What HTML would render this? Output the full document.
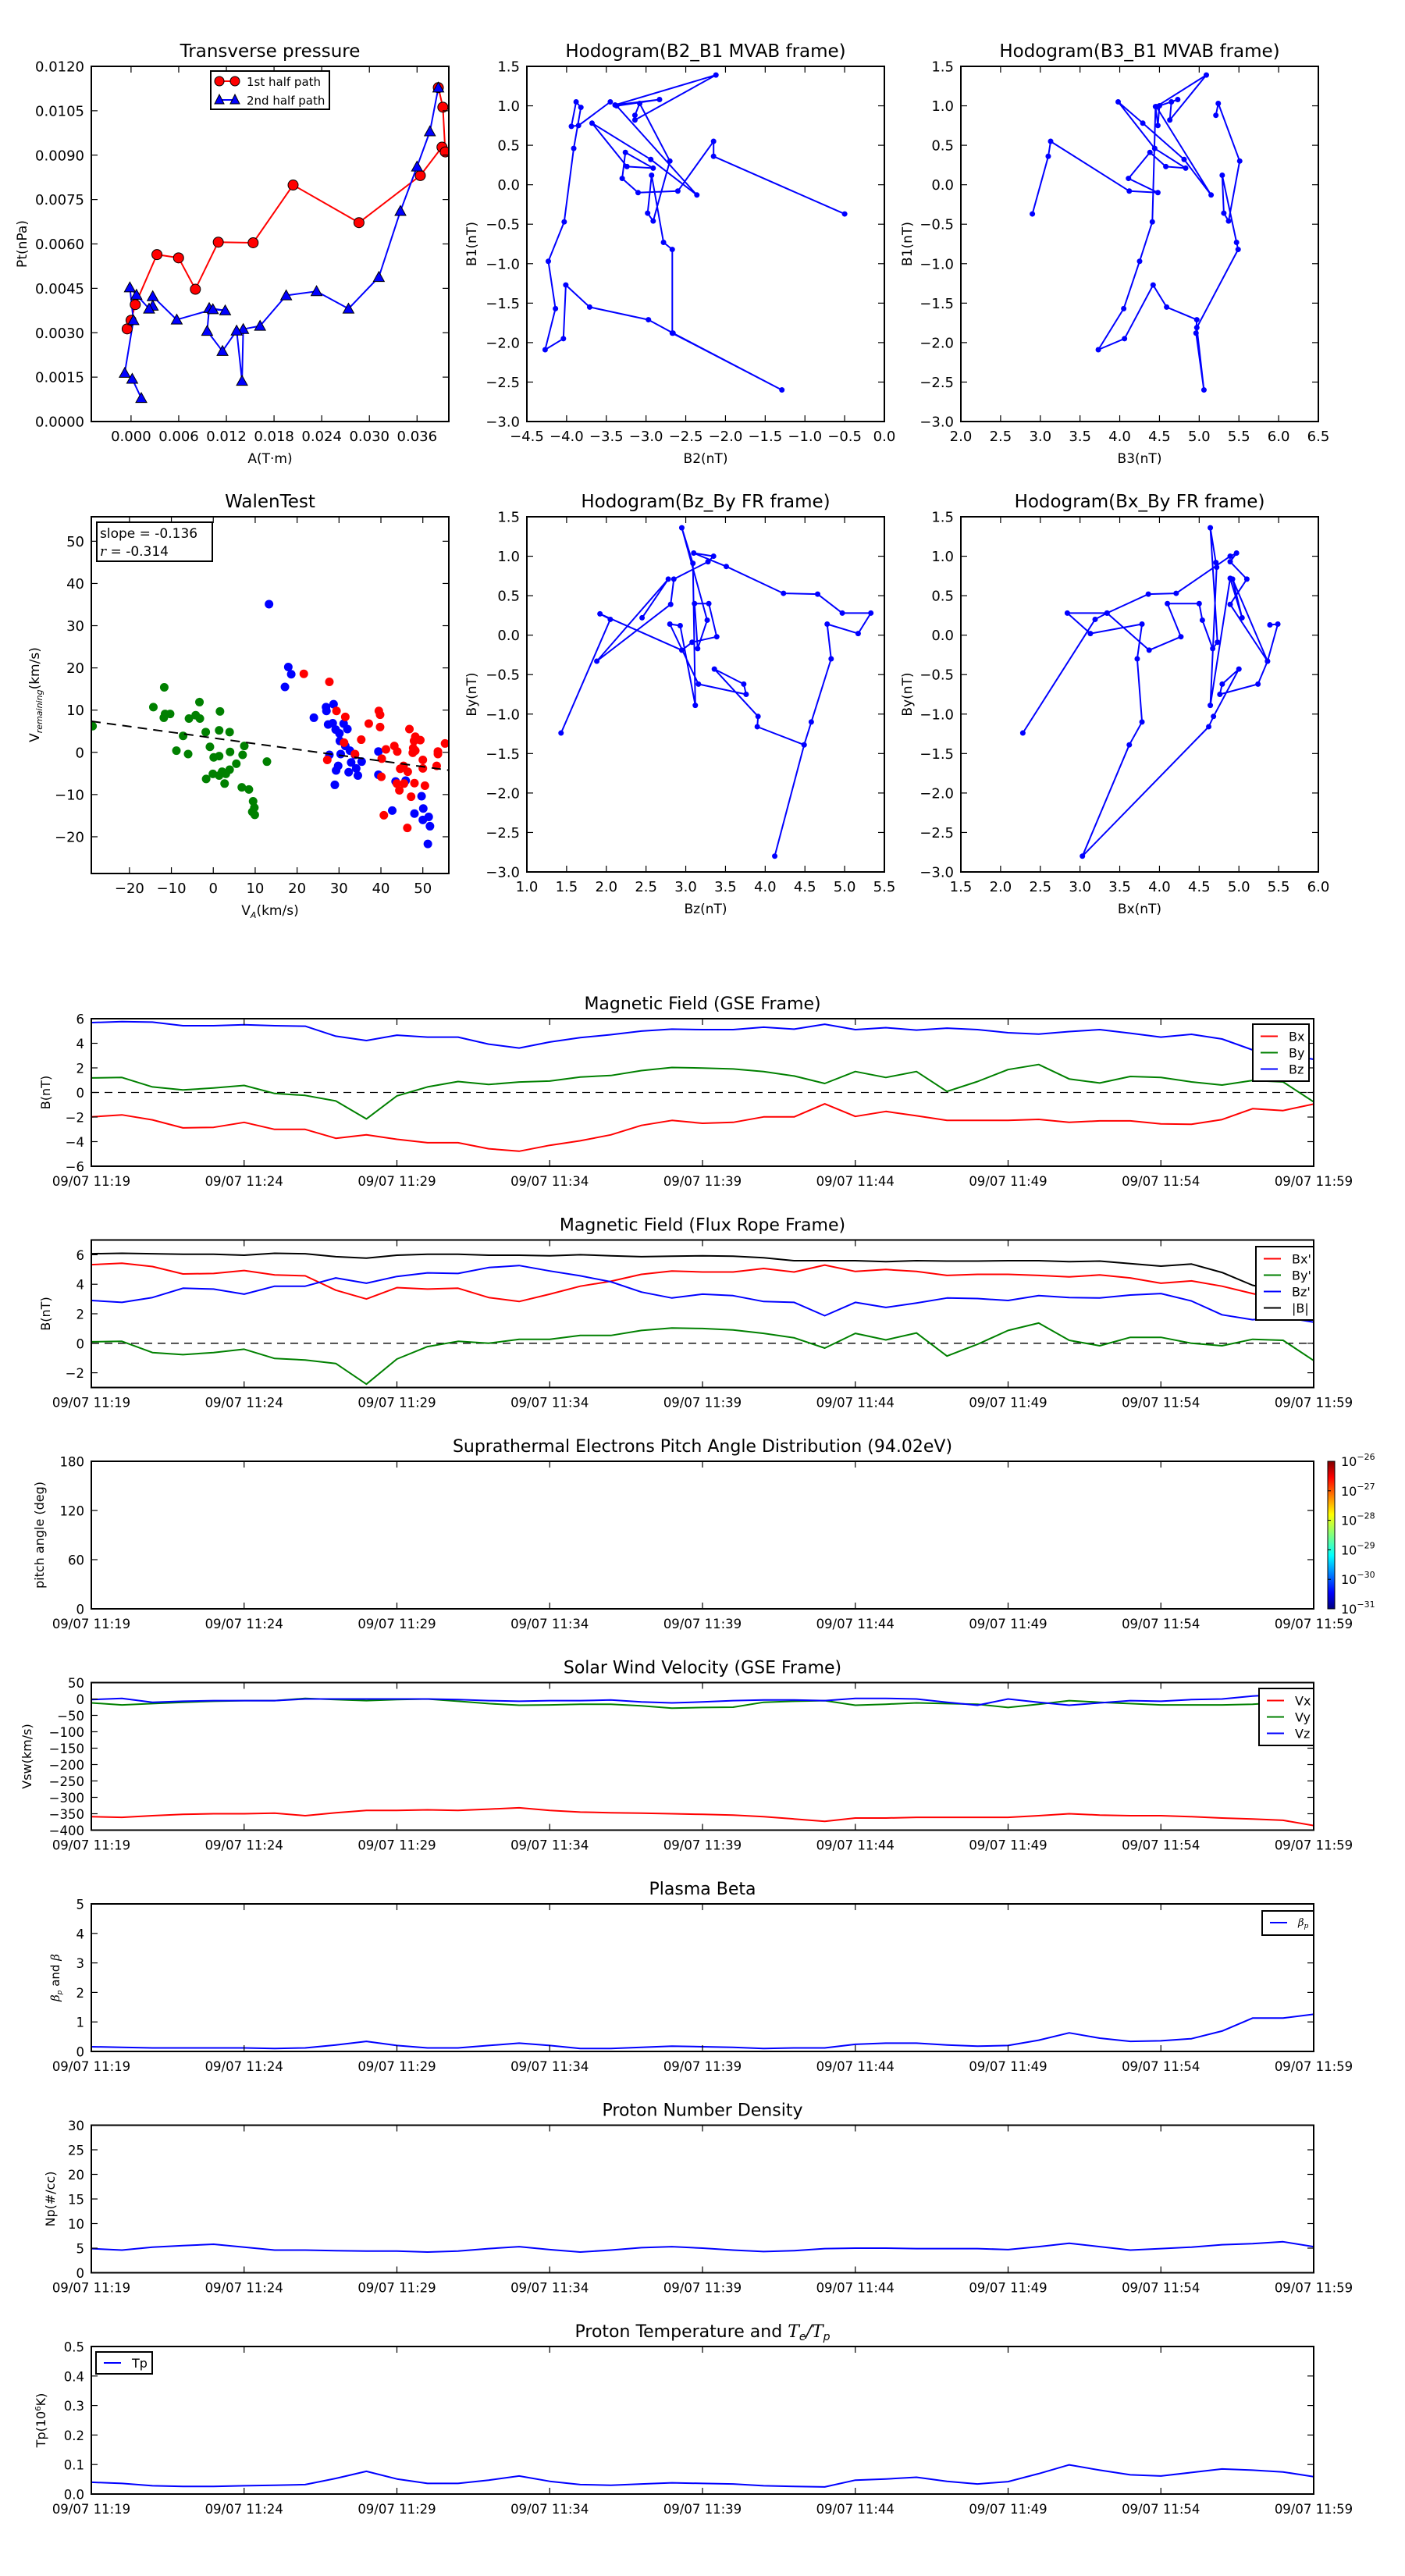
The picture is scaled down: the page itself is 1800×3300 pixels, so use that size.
<!DOCTYPE html>
<html>
<head>
<meta charset="utf-8">
<style>
html,body{margin:0;padding:0;background:#fff;}
svg{display:block;font-family:"DejaVu Sans","Liberation Sans",sans-serif;}
</style>
</head>
<body>
<svg id="fig" xmlns="http://www.w3.org/2000/svg" width="1800" height="3300" viewBox="0 0 1800 3300">
<defs>
<linearGradient id="jet" x1="0" y1="1" x2="0" y2="0">
<stop offset="0" stop-color="#00007f"/><stop offset="0.11" stop-color="#0000ff"/><stop offset="0.36" stop-color="#00ffff"/><stop offset="0.5" stop-color="#7fff7f"/><stop offset="0.64" stop-color="#ffff00"/><stop offset="0.89" stop-color="#ff0000"/><stop offset="1" stop-color="#7f0000"/>
</linearGradient>
</defs>
</svg>
<script>
// ---------- Transverse pressure ----------
const ptRedA = [-0.00049,0,0.00053,0.00326,0.00598,0.0081,0.01098,0.01537,0.0204,0.02869,0.03641,0.03914,0.03955,0.03925,0.03868];
const ptRedP = [0.00313,0.00342,0.00395,0.00564,0.00553,0.00447,0.00606,0.00604,0.00799,0.00672,0.00831,0.00927,0.00911,0.01062,0.01128];
const ptBlueA = [0.03868,0.03762,0.036,0.03391,0.03119,0.02737,0.02335,0.01953,0.01624,0.01412,0.01397,0.01329,0.01151,0.00958,0.00984,0.01185,0.0103,0.00575,0.00273,0.00273,0.00227,0.00068,-0.00015,0.0003,-0.00079,0.00015,0.00129];
const ptBlueP = [0.01128,0.0098,0.00861,0.00711,0.00488,0.00381,0.0044,0.00426,0.00323,0.00312,0.00137,0.00307,0.00238,0.00306,0.00383,0.00375,0.00379,0.00344,0.00423,0.00391,0.00381,0.00428,0.00453,0.00342,0.00164,0.00144,0.00079];
const ptXTicks = [0,0.006,0.012,0.018,0.024,0.030,0.036];
const ptXTickLabels = ['0.000','0.006','0.012','0.018','0.024','0.030','0.036'];
const ptYTicks = [0,0.0015,0.003,0.0045,0.006,0.0075,0.009,0.0105,0.012];
const ptYTickLabels = ['0.0000','0.0015','0.0030','0.0045','0.0060','0.0075','0.0090','0.0105','0.0120'];
// ---------- Hodogram B2_B1 ----------
const h1B2 = [-0.50,-2.15,-2.15,-2.60,-3.10,-3.30,-3.26,-2.91,-3.24,-3.68,-2.94,-2.36,-3.37,-2.83,-3.39,-2.12,-3.14,-3.14,-3.08,-2.70,-2.91,-2.98,-2.93,-2.78,-2.67,-2.67,-1.29,-2.66,-2.97,-3.71,-4.01,-4.04,-4.27,-4.14,-4.23,-4.03,-3.91,-3.82,-3.88,-3.94,-3.85,-3.45];
const h1B1 = [-0.37,0.36,0.55,-0.08,-0.10,0.08,0.41,0.21,0.23,0.78,0.32,-0.13,1.00,1.08,1.01,1.39,0.82,0.88,1.03,0.30,-0.46,-0.36,0.12,-0.73,-0.82,-1.88,-2.60,-1.88,-1.71,-1.55,-1.27,-1.95,-2.09,-1.57,-0.97,-0.47,0.46,0.98,1.05,0.74,0.75,1.05];
// ---------- Hodogram B3_B1 ----------
const h2B3 = [2.90,3.10,3.13,4.12,4.48,4.11,4.38,4.58,4.83,4.44,3.98,4.29,4.81,5.15,4.46,5.09,4.63,4.65,4.73,4.50,4.48,4.45,4.41,4.25,4.05,3.73,4.06,4.42,4.59,4.97,4.96,5.06,4.97,5.49,5.47,5.29,5.31,5.37,5.51,5.24,5.21];
const h2B1 = [-0.37,0.36,0.55,-0.08,-0.10,0.08,0.41,0.23,0.21,0.46,1.05,0.78,0.32,-0.13,0.99,1.39,0.82,1.05,1.08,1.00,0.75,0.99,-0.47,-0.97,-1.57,-2.09,-1.95,-1.27,-1.55,-1.71,-1.88,-2.60,-1.81,-0.82,-0.73,0.12,-0.36,-0.46,0.30,1.03,0.88];
// ---------- Hodogram Bz_By ----------
const h3Bz = [1.43,2.05,1.92,2.95,3.08,3.39,3.29,3.11,3.15,3.27,2.95,3.09,3.12,2.93,2.80,3.16,3.76,3.73,3.36,3.91,3.90,4.49,4.12,4.49,4.58,4.83,4.78,5.17,5.33,4.97,4.66,4.23,3.51,3.10,3.35,3.28,2.85,2.81,1.88,2.78,2.45];
const h3By = [-1.24,0.20,0.27,-0.19,-0.09,-0.02,0.40,0.40,-0.17,0.19,1.36,0.91,-0.89,0.12,0.14,-0.62,-0.75,-0.62,-0.43,-1.03,-1.16,-1.39,-2.80,-1.39,-1.10,-0.30,0.14,0.02,0.28,0.28,0.52,0.53,0.87,1.04,1.00,0.93,0.71,0.39,-0.33,0.71,0.22];
// ---------- Hodogram Bx_By ----------
const h4Bx = [2.28,3.19,3.34,3.86,4.21,4.89,4.97,4.89,5.10,4.89,5.36,4.92,5.04,4.89,4.64,4.72,4.71,4.64,4.73,4.67,4.54,4.50,4.10,4.27,3.87,3.34,2.84,3.13,3.78,3.72,3.78,3.62,3.03,4.62,4.68,5.00,4.79,4.76,5.24,5.36,5.49,5.39];
const h4By = [-1.24,0.20,0.28,0.52,0.53,1.00,1.04,0.93,0.71,0.39,-0.33,0.71,0.22,0.72,-0.89,0.86,0.92,1.36,-0.09,-0.17,0.19,0.40,0.40,-0.02,-0.19,0.28,0.28,0.02,0.14,-0.30,-1.10,-1.39,-2.80,-1.16,-1.03,-0.43,-0.62,-0.75,-0.62,-0.33,0.14,0.13];
const hodoTicksY = [-3.0,-2.5,-2.0,-1.5,-1.0,-0.5,0.0,0.5,1.0,1.5];
const hodoTickLabelsY = ['\u22123.0','\u22122.5','\u22122.0','\u22121.5','\u22121.0','\u22120.5','0.0','0.5','1.0','1.5'];
const h1XTicks = [-4.5,-4.0,-3.5,-3.0,-2.5,-2.0,-1.5,-1.0,-0.5,0.0];
const h1XTickLabels = ['\u22124.5','\u22124.0','\u22123.5','\u22123.0','\u22122.5','\u22122.0','\u22121.5','\u22121.0','\u22120.5','0.0'];
const h2XTicks = [2.0,2.5,3.0,3.5,4.0,4.5,5.0,5.5,6.0,6.5];
const h2XTickLabels = ['2.0','2.5','3.0','3.5','4.0','4.5','5.0','5.5','6.0','6.5'];
const h3XTicks = [1.0,1.5,2.0,2.5,3.0,3.5,4.0,4.5,5.0,5.5];
const h3XTickLabels = ['1.0','1.5','2.0','2.5','3.0','3.5','4.0','4.5','5.0','5.5'];
const h4XTicks = [1.5,2.0,2.5,3.0,3.5,4.0,4.5,5.0,5.5,6.0];
const h4XTickLabels = ['1.5','2.0','2.5','3.0','3.5','4.0','4.5','5.0','5.5','6.0'];
// ---------- Walen test ----------
const walenGreenX = [-28.8,-11.7,-14.3,-11.8,-11.5,-10.3,-5.8,-4.2,-3.2,-3.3,1.6,-7.2,-1.8,1.4,3.9,-8.8,-6.0,-0.8,0.1,1.4,4.0,7.4,7.0,5.5,12.8,-1.7,-0.1,1.4,2.1,3.0,3.9,2.7,6.8,8.5,9.5,9.8,9.3,9.9];
const walenGreenY = [6.2,15.4,10.7,8.2,9.1,9.1,8.0,8.8,8.0,11.9,9.7,3.9,4.8,5.2,4.8,0.4,-0.4,1.3,-1.2,-0.9,0.1,1.5,-0.6,-2.7,-2.2,-6.3,-5.1,-5.5,-4.6,-5.1,-4.1,-7.4,-8.3,-8.8,-11.6,-13.1,-14.1,-14.8];
const walenBlueX = [13.3,17.9,18.6,17.1,24.0,26.9,27.0,28.7,27.4,28.5,31.1,29.2,30.1,32.0,30.2,31.5,32.6,33.8,27.7,30.4,32.9,35.4,29.8,29.3,32.3,34.1,34.5,29.0,39.4,39.4,43.5,45.9,49.7,42.7,48.0,50.1,50.0,51.4,51.7,51.2];
const walenBlueY = [35.1,20.2,18.5,15.5,8.2,10.7,9.8,11.4,6.6,6.9,6.8,5.4,4.5,5.5,2.7,1.5,0.4,-0.6,-0.6,-0.4,-2.4,-2.2,-3.2,-4.3,-4.7,-3.8,-5.5,-7.7,0.2,-5.3,-6.9,-6.7,-10.4,-13.8,-14.5,-13.3,-16.0,-15.3,-17.5,-21.7];
const walenRedX = [21.6,27.7,29.4,31.5,37.1,39.5,39.8,39.8,35.3,46.8,48.2,49.4,47.9,47.7,48.2,47.6,43.2,43.9,41.2,55.3,53.6,53.6,50.0,40.2,33.8,31.2,27.2,45.4,44.6,46.4,50.0,53.3,40.1,43.8,45.5,48.0,50.5,44.4,47.2,40.7,46.3];
const walenRedY = [18.6,16.7,9.8,8.4,6.8,9.8,8.9,6.0,3.0,5.5,3.7,2.9,2.7,1.0,0.4,-0.1,1.5,0.2,0.7,2.1,0.2,-0.4,-1.8,-1.5,-0.4,2.3,-1.8,-3.2,-3.9,-4.6,-3.8,-3.2,-5.8,-7.4,-7.4,-7.3,-7.9,-9.0,-10.5,-14.9,-17.9];
const walenSlope = -0.136;
const walenIntercept = 3.4;
const walenXTicks = [-20,-10,0,10,20,30,40,50];
const walenXTickLabels = ['\u221220','\u221210','0','10','20','30','40','50'];
const walenYTicks = [-20,-10,0,10,20,30,40,50];
const walenYTickLabels = ['\u221220','\u221210','0','10','20','30','40','50'];
// ---------- Time series (1-min samples, 09/07 11:19 - 11:59) ----------
const timeTickLabels = ['09/07 11:19','09/07 11:24','09/07 11:29','09/07 11:34','09/07 11:39','09/07 11:44','09/07 11:49','09/07 11:54','09/07 11:59'];
const timeTickMinutes = [0,5,10,15,20,25,30,35,40];
const gseBx = [-1.99,-1.82,-2.23,-2.88,-2.84,-2.43,-3.0,-3.0,-3.73,-3.45,-3.81,-4.09,-4.09,-4.58,-4.78,-4.3,-3.93,-3.45,-2.68,-2.27,-2.51,-2.43,-1.99,-1.99,-0.93,-1.95,-1.54,-1.9,-2.27,-2.27,-2.27,-2.19,-2.43,-2.31,-2.31,-2.55,-2.59,-2.2,-1.32,-1.47,-0.94];
const gseBy = [1.18,1.22,0.45,0.2,0.36,0.57,-0.08,-0.24,-0.69,-2.15,-0.28,0.45,0.89,0.65,0.85,0.93,1.26,1.38,1.78,2.03,1.99,1.91,1.7,1.34,0.73,1.7,1.22,1.7,0.08,0.89,1.86,2.27,1.1,0.77,1.3,1.22,0.86,0.6,0.98,0.86,-0.77];
const gseBz = [5.68,5.76,5.72,5.43,5.43,5.51,5.43,5.39,4.58,4.22,4.66,4.5,4.5,3.93,3.61,4.1,4.46,4.7,4.99,5.15,5.11,5.11,5.31,5.15,5.55,5.11,5.27,5.07,5.23,5.11,4.86,4.74,4.95,5.11,4.82,4.5,4.73,4.35,3.46,3.1,2.7];
const frBx = [5.33,5.43,5.2,4.7,4.73,4.93,4.63,4.57,3.6,3.0,3.77,3.67,3.73,3.1,2.83,3.33,3.87,4.2,4.67,4.9,4.83,4.83,5.07,4.83,5.3,4.87,5.0,4.87,4.6,4.67,4.67,4.6,4.5,4.63,4.43,4.07,4.23,3.87,3.37,2.93,2.37];
const frBy = [0.1,0.13,-0.63,-0.77,-0.63,-0.4,-1.03,-1.13,-1.37,-2.77,-1.07,-0.23,0.13,0,0.27,0.27,0.53,0.53,0.87,1.03,1.0,0.9,0.67,0.37,-0.33,0.67,0.23,0.7,-0.87,-0.07,0.87,1.37,0.2,-0.17,0.4,0.4,0,-0.17,0.27,0.2,-1.17];
const frBz = [2.9,2.77,3.1,3.73,3.67,3.33,3.87,3.87,4.43,4.07,4.53,4.77,4.73,5.13,5.27,4.9,4.57,4.17,3.47,3.07,3.33,3.23,2.83,2.77,1.87,2.77,2.43,2.73,3.07,3.03,2.9,3.23,3.1,3.07,3.27,3.37,2.87,1.93,1.6,1.77,1.43];
const frBt = [6.07,6.1,6.07,6.03,6.03,5.97,6.1,6.07,5.87,5.77,5.97,6.03,6.03,5.97,5.97,5.93,6.0,5.93,5.87,5.9,5.93,5.9,5.8,5.6,5.6,5.6,5.53,5.6,5.57,5.57,5.6,5.6,5.53,5.57,5.4,5.23,5.37,4.8,3.93,3.53,2.93];
const swVx = [-359,-361,-356,-352,-350,-350,-348,-356,-347,-340,-340,-338,-340,-336,-332,-340,-345,-347,-348,-350,-352,-354,-359,-366,-373,-363,-363,-361,-361,-361,-361,-356,-350,-354,-356,-356,-359,-363,-366,-370,-386];
const swVy = [-12,-18,-14,-10,-7,-5,-5,2,-2,-5,-2,0,-7,-14,-19,-18,-16,-16,-21,-28,-26,-25,-10,-7,-5,-19,-16,-12,-14,-16,-26,-16,-5,-10,-14,-18,-18,-18,-16,-10,-2];
const swVz = [-2,2,-10,-7,-5,-5,-5,0,0,0,0,0,-2,-5,-7,-5,-5,-3,-9,-12,-9,-5,-3,-3,-5,2,2,0,-10,-19,0,-10,-19,-12,-5,-7,-2,0,9,14,21];
const betaP = [0.16,0.14,0.12,0.12,0.12,0.12,0.10,0.12,0.22,0.34,0.20,0.12,0.12,0.20,0.28,0.20,0.10,0.10,0.14,0.18,0.16,0.14,0.10,0.12,0.12,0.24,0.28,0.28,0.22,0.18,0.20,0.38,0.63,0.45,0.34,0.36,0.43,0.69,1.13,1.13,1.26];
const densNp = [4.9,4.6,5.2,5.5,5.8,5.2,4.6,4.6,4.5,4.4,4.4,4.2,4.4,4.9,5.3,4.7,4.2,4.6,5.1,5.3,5.0,4.6,4.3,4.5,4.9,5.0,5.0,4.9,4.9,4.9,4.7,5.3,6.0,5.3,4.6,4.9,5.2,5.7,5.9,6.3,5.3];
const tempTp = [0.040,0.036,0.028,0.026,0.026,0.028,0.030,0.032,0.053,0.077,0.051,0.036,0.036,0.047,0.061,0.043,0.032,0.030,0.034,0.038,0.036,0.034,0.028,0.026,0.024,0.047,0.051,0.057,0.043,0.034,0.042,0.069,0.099,0.081,0.065,0.061,0.073,0.085,0.081,0.075,0.059];
const colorbarExps = ['-31','-30','-29','-28','-27','-26'];

const NS = 'http://www.w3.org/2000/svg';
const svg = document.getElementById('fig');
function mk(tag, attrs, parent) {
  const e = document.createElementNS(NS, tag);
  for (const k in attrs) e.setAttribute(k, attrs[k]);
  (parent || svg).appendChild(e);
  return e;
}
function txt(str, x, y, size, anchor, parent) {
  const t = mk('text', {x: x, y: y, 'font-size': size, 'text-anchor': anchor || 'middle', fill: '#000'}, parent);
  t.textContent = str;
  return t;
}

function makeAxes(name, cfg) {
  const g = mk('g', {});
  
  
  const sx = v => cfg.x + (v - cfg.xmin) / (cfg.xmax - cfg.xmin) * cfg.w;
  const sy = v => cfg.y + cfg.h - (v - cfg.ymin) / (cfg.ymax - cfg.ymin) * cfg.h;
  const fs = cfg.fs || 18;
  const plot = mk('g', {}, g);
  
  
  const clipId = 'clip-' + name;
  const cp = mk('clipPath', {id: clipId}, g);
  mk('rect', {x: cfg.x, y: cfg.y, width: cfg.w, height: cfg.h}, cp);
  plot.setAttribute('clip-path', 'url(#' + clipId + ')');
  const ticks = mk('g', {stroke: '#000', 'stroke-width': 1.2}, g);
  
  
  cfg.xticks.forEach((v, i) => {
    const px = sx(v);
    mk('line', {x1: px, x2: px, y1: cfg.y + cfg.h, y2: cfg.y + cfg.h - 8}, ticks);
    mk('line', {x1: px, x2: px, y1: cfg.y, y2: cfg.y + 8}, ticks);
    const t = txt(cfg.xlabels[i], px, cfg.y + cfg.h + (cfg.xlabOff || 25), fs, 'middle', g);
    
    
  });
  cfg.yticks.forEach((v, i) => {
    const py = sy(v);
    mk('line', {x1: cfg.x, x2: cfg.x + 8, y1: py, y2: py}, ticks);
    mk('line', {x1: cfg.x + cfg.w, x2: cfg.x + cfg.w - 8, y1: py, y2: py}, ticks);
    const t = txt(cfg.ylabels[i], cfg.x - 9, py + 6.5, fs, 'end', g);
    
    
  });
  const frame = mk('rect', {x: cfg.x, y: cfg.y, width: cfg.w, height: cfg.h, fill: 'none', stroke: '#000', 'stroke-width': 2}, g);
  
  
  if (cfg.title) {
    const t = txt(cfg.title, cfg.x + cfg.w / 2, cfg.y - 12, cfg.tfs || 23, 'middle', g);
    
    
  }
  if (cfg.xtitle) {
    const t = txt(cfg.xtitle, cfg.x + cfg.w / 2, cfg.y + cfg.h + 53, 17, 'middle', g);
    
    
  }
  if (cfg.ytitle) {
    const yx = cfg.ytx, yy = cfg.y + cfg.h / 2;
    const t = mk('text', {x: yx, y: yy, 'font-size': cfg.ytfs || 17, 'text-anchor': 'middle', transform: 'rotate(-90 ' + yx + ' ' + yy + ')'}, g);
    t.textContent = cfg.ytitle;
    
    
  }
  return {g: g, plot: plot, sx: sx, sy: sy};
}
function polyline(ax, xs, ys, color, width, name) {
  const pts = xs.map((v, i) => ax.sx(v).toFixed(1) + ',' + ax.sy(ys[i]).toFixed(1)).join(' ');
  const p = mk('polyline', {points: pts, fill: 'none', stroke: color, 'stroke-width': width || 2, 'stroke-linejoin': 'round'}, ax.plot);
  
  
  return p;
}
function dots(ax, xs, ys, color, r, name, edge) {
  const g = mk('g', {}, ax.plot);
  
  
  xs.forEach((v, i) => {
    const c = mk('circle', {cx: ax.sx(v), cy: ax.sy(ys[i]), r: r, fill: color, stroke: edge || 'none', 'stroke-width': 1}, g);
    
    
  });
  return g;
}
function tris(ax, xs, ys, color, s, name) {
  const g = mk('g', {}, ax.plot);
  
  
  xs.forEach((v, i) => {
    const cx = ax.sx(v), cy = ax.sy(ys[i]);
    const p = mk('polygon', {points: cx + ',' + (cy - s) + ' ' + (cx - s) + ',' + (cy + s * 0.8) + ' ' + (cx + s) + ',' + (cy + s * 0.8), fill: color, stroke: '#000', 'stroke-width': 1}, g);
    
    
  });
}

// ---- Transverse pressure ----
const ax1 = makeAxes('transverse-pressure', {x: 117, y: 85, w: 458, h: 455, xmin: -0.005, xmax: 0.040, ymin: 0, ymax: 0.012,
  xticks: ptXTicks, xlabels: ptXTickLabels, yticks: ptYTicks, ylabels: ptYTickLabels, title: 'Transverse pressure', xtitle: 'A(T\u00b7m)', ytitle: 'Pt(nPa)', ytx: 34});
polyline(ax1, ptRedA, ptRedP, '#ff0000', 2, 'first-half-path-line');
polyline(ax1, ptBlueA, ptBlueP, '#0000ff', 2, 'second-half-path-line');
dots(ax1, ptRedA, ptRedP, '#ff0000', 6.5, 'first-half-path-markers', '#000');
tris(ax1, ptBlueA, ptBlueP, '#0000ff', 7, 'second-half-path-markers');
(function () {
  const lg = mk('g', {}, ax1.g);
  
  
  mk('rect', {x: 270, y: 91, width: 152, height: 49, fill: '#fff', stroke: '#000', 'stroke-width': 2}, lg);
  mk('line', {x1: 281, x2: 301, y1: 104, y2: 104, stroke: '#ff0000', 'stroke-width': 2}, lg);
  mk('circle', {cx: 281, cy: 104, r: 6, fill: '#ff0000', stroke: '#000'}, lg);
  mk('circle', {cx: 301, cy: 104, r: 6, fill: '#ff0000', stroke: '#000'}, lg);
  mk('line', {x1: 281, x2: 301, y1: 128, y2: 128, stroke: '#0000ff', 'stroke-width': 2}, lg);
  mk('polygon', {points: '281,121 275,133 287,133', fill: '#0000ff', stroke: '#000'}, lg);
  mk('polygon', {points: '301,121 295,133 307,133', fill: '#0000ff', stroke: '#000'}, lg);
  const a = txt('1st half path', 316, 110, 15, 'start', lg);
  
  
  const b = txt('2nd half path', 316, 134, 15, 'start', lg);
  
  
})();

// ---- Hodograms ----
function hodo(name, x, y, xs, ys, xmin, xmax, xt, xtl, title, xtitle, ytitle, ytx) {
  const ax = makeAxes(name, {x: x, y: y, w: 458, h: 455, xmin: xmin, xmax: xmax, ymin: -3, ymax: 1.5,
    xticks: xt, xlabels: xtl, yticks: hodoTicksY, ylabels: hodoTickLabelsY, title: title, xtitle: xtitle, ytitle: ytitle, ytx: ytx});
  polyline(ax, xs, ys, '#0000ff', 2, name + '-path');
  dots(ax, xs, ys, '#0000ff', 3.5, name + '-points');
}
hodo('hodogram-b2-b1', 675, 85, h1B2, h1B1, -4.5, 0, h1XTicks, h1XTickLabels, 'Hodogram(B2_B1 MVAB frame)', 'B2(nT)', 'B1(nT)', 610);
hodo('hodogram-b3-b1', 1231, 85, h2B3, h2B1, 2.0, 6.5, h2XTicks, h2XTickLabels, 'Hodogram(B3_B1 MVAB frame)', 'B3(nT)', 'B1(nT)', 1168);
hodo('hodogram-bz-by', 675, 662, h3Bz, h3By, 1.0, 5.5, h3XTicks, h3XTickLabels, 'Hodogram(Bz_By FR frame)', 'Bz(nT)', 'By(nT)', 610);
hodo('hodogram-bx-by', 1231, 662, h4Bx, h4By, 1.5, 6.0, h4XTicks, h4XTickLabels, 'Hodogram(Bx_By FR frame)', 'Bx(nT)', 'By(nT)', 1168);

// ---- Walen test ----
const axW = makeAxes('walen-test', {x: 117, y: 662, w: 458, h: 457, xmin: -29.1, xmax: 56.2, ymin: -28.7, ymax: 55.8,
  xticks: walenXTicks, xlabels: walenXTickLabels, yticks: walenYTicks, ylabels: walenYTickLabels, title: 'WalenTest'});
dots(axW, walenGreenX, walenGreenY, '#008000', 5.5, 'walen-green-points');
dots(axW, walenBlueX, walenBlueY, '#0000ff', 5.5, 'walen-blue-points');
dots(axW, walenRedX, walenRedY, '#ff0000', 5.5, 'walen-red-points');
(function () {
  const fx = [-29.1, 56.2];
  const fy = fx.map(v => walenIntercept + walenSlope * v);
  const l = polyline(axW, fx, fy, '#000', 2, 'walen-fit-line');
  l.setAttribute('stroke-dasharray', '12,8');
  const box = mk('g', {}, axW.g);
  
  
  mk('rect', {x: 124, y: 669, width: 148, height: 50, fill: '#fff', stroke: '#000', 'stroke-width': 2}, box);
  txt('slope = -0.136', 128, 689, 17, 'start', box);
  const r = mk('text', {x: 128, y: 712, 'font-size': 17}, box);
  r.innerHTML = '<tspan font-style="italic" font-family="DejaVu Serif, serif">r</tspan> = -0.314';
  const xt = mk('text', {x: 346, y: 1172, 'font-size': 17, 'text-anchor': 'middle'}, axW.g);
  xt.innerHTML = 'V<tspan font-size="11" dy="4" font-style="italic">A</tspan><tspan dy="-4">(km/s)</tspan>';
  
  
  const yt = mk('text', {x: 50, y: 890, 'font-size': 17, 'text-anchor': 'middle', transform: 'rotate(-90 50 890)'}, axW.g);
  yt.innerHTML = 'V<tspan font-size="11" dy="4" font-style="italic">remaining</tspan><tspan dy="-4">(km/s)</tspan>';
  
  
})();

// ---- Time series panels ----
const TX = 117, TW = 1566, TH = 189;
function panelTop(i) { return 1305 + 283.5 * i; }
function idx(arr) { return arr.map((v, i) => i); }
function tsAxes(name, i, ymin, ymax, yt, ytl, title, ytitle, ytx) {
  return makeAxes(name, {x: TX, y: panelTop(i), w: TW, h: TH, xmin: 0, xmax: 40, ymin: ymin, ymax: ymax,
    xticks: timeTickMinutes, xlabels: timeTickLabels, yticks: yt, ylabels: ytl, title: title, ytitle: ytitle, ytx: ytx, fs: 16.5, ytfs: 16, xlabOff: 25, tfs: 22});
}
function legend(ax, name, x, y, w, entries, rowH) {
  const g = mk('g', {}, ax.g);
  
  
  mk('rect', {x: x, y: y, width: w, height: entries.length * rowH + 10, fill: '#fff', stroke: '#000', 'stroke-width': 2}, g);
  entries.forEach((e, k) => {
    const cy = y + 5 + rowH * (k + 0.5);
    mk('line', {x1: x + 10, x2: x + 32, y1: cy, y2: cy, stroke: e[1], 'stroke-width': 2}, g);
    const t = txt(e[0], x + 46, cy + 6, 16, 'start', g);
    
    
  });
}
function zeroLine(ax, name) {
  const l = mk('line', {x1: TX, x2: TX + TW, y1: ax.sy(0), y2: ax.sy(0), stroke: '#000', 'stroke-width': 1.3, 'stroke-dasharray': '10,7'}, ax.plot);
  
  
}
// GSE
const axG = tsAxes('magnetic-field-gse', 0, -6, 6, [-6,-4,-2,0,2,4,6], ['\u22126','\u22124','\u22122','0','2','4','6'], 'Magnetic Field (GSE Frame)', 'B(nT)', 64);
zeroLine(axG, 'gse-zero-line');
polyline(axG, idx(gseBx), gseBx, '#ff0000', 2, 'gse-bx-line');
polyline(axG, idx(gseBy), gseBy, '#008000', 2, 'gse-by-line');
polyline(axG, idx(gseBz), gseBz, '#0000ff', 2, 'gse-bz-line');
legend(axG, 'gse-legend', 1605, 1312, 72, [['Bx', '#ff0000'], ['By', '#008000'], ['Bz', '#0000ff']], 21);
// FR
const axF = tsAxes('magnetic-field-flux-rope', 1, -3, 7, [-2,0,2,4,6], ['\u22122','0','2','4','6'], 'Magnetic Field (Flux Rope Frame)', 'B(nT)', 64);
zeroLine(axF, 'fr-zero-line');
polyline(axF, idx(frBt), frBt, '#000000', 2, 'fr-btotal-line');
polyline(axF, idx(frBx), frBx, '#ff0000', 2, 'fr-bx-line');
polyline(axF, idx(frBy), frBy, '#008000', 2, 'fr-by-line');
polyline(axF, idx(frBz), frBz, '#0000ff', 2, 'fr-bz-line');
legend(axF, 'fr-legend', 1609, 1597, 74, [["Bx'", '#ff0000'], ["By'", '#008000'], ["Bz'", '#0000ff'], ['|B|', '#000000']], 21);
// PAD
const axP = tsAxes('pitch-angle-distribution', 2, 0, 180, [0,60,120,180], ['0','60','120','180'], 'Suprathermal Electrons Pitch Angle Distribution (94.02eV)', 'pitch angle (deg)', 56);
(function () {
  const top = panelTop(2);
  const cb = mk('rect', {x: 1701, y: top, width: 9, height: TH, fill: 'url(#jet)', stroke: '#000', 'stroke-width': 1}, axP.g);
  
  
  colorbarExps.forEach((e, k) => {
    const yy = top + TH - k * TH / (colorbarExps.length - 1);
    mk('line', {x1: 1701, x2: 1705, y1: yy, y2: yy, stroke: '#000'}, axP.g);
    const t = mk('text', {x: 1718, y: yy + 6, 'font-size': 16}, axP.g);
    t.innerHTML = '10<tspan font-size="11" dy="-8">' + e.replace('-', '\u2212') + '</tspan>';
    
    
  });
})();
// Solar wind
const axS = tsAxes('solar-wind-velocity', 3, -400, 50, [-400,-350,-300,-250,-200,-150,-100,-50,0,50], ['\u2212400','\u2212350','\u2212300','\u2212250','\u2212200','\u2212150','\u2212100','\u221250','0','50'], 'Solar Wind Velocity (GSE Frame)', 'Vsw(km/s)', 40);
polyline(axS, idx(swVx), swVx, '#ff0000', 2, 'vx-line');
polyline(axS, idx(swVy), swVy, '#008000', 2, 'vy-line');
polyline(axS, idx(swVz), swVz, '#0000ff', 2, 'vz-line');
legend(axS, 'velocity-legend', 1613, 2163, 70, [['Vx', '#ff0000'], ['Vy', '#008000'], ['Vz', '#0000ff']], 21);
// Beta
const axB = tsAxes('plasma-beta', 4, 0, 5, [0,1,2,3,4,5], ['0','1','2','3','4','5'], 'Plasma Beta', '', 70);
polyline(axB, idx(betaP), betaP, '#0000ff', 2, 'beta-p-line');
(function () {
  const g = mk('g', {}, axB.g);
  
  
  mk('rect', {x: 1617, y: 2448, width: 66, height: 31, fill: '#fff', stroke: '#000', 'stroke-width': 2}, g);
  mk('line', {x1: 1627, x2: 1649, y1: 2463, y2: 2463, stroke: '#0000ff', 'stroke-width': 2}, g);
  const t = mk('text', {x: 1663, y: 2467, 'font-size': 13, 'font-style': 'italic', 'font-family': 'DejaVu Serif, serif'}, g);
  t.innerHTML = '\u03b2<tspan font-size="9" dy="3">p</tspan>';
  const yy = panelTop(4) + TH / 2;
  const yt = mk('text', {x: 76, y: yy, 'font-size': 15, 'text-anchor': 'middle', transform: 'rotate(-90 76 ' + yy + ')'}, axB.g);
  yt.innerHTML = '<tspan font-style="italic" font-family="DejaVu Serif, serif">\u03b2</tspan><tspan font-size="9" dy="3" font-style="italic">p</tspan><tspan dy="-3"> and </tspan><tspan font-style="italic" font-family="DejaVu Serif, serif">\u03b2</tspan>';
  
  
})();
// Density
const axN = tsAxes('proton-number-density', 5, 0, 30, [0,5,10,15,20,25,30], ['0','5','10','15','20','25','30'], 'Proton Number Density', 'Np(#/cc)', 70);
polyline(axN, idx(densNp), densNp, '#0000ff', 2, 'np-line');
// Temperature
const axT = tsAxes('proton-temperature', 6, 0, 0.5, [0,0.1,0.2,0.3,0.4,0.5], ['0.0','0.1','0.2','0.3','0.4','0.5'], '', '', 58);
polyline(axT, idx(tempTp), tempTp, '#0000ff', 2, 'tp-line');
legend(axT, 'tp-legend', 123, 3013, 72, [['Tp', '#0000ff']], 18);
(function () {
  const top = panelTop(6);
  const t = mk('text', {x: 900, y: top - 12, 'font-size': 22, 'text-anchor': 'middle'}, axT.g);
  t.innerHTML = 'Proton Temperature and <tspan font-style="italic" font-family="DejaVu Serif, serif">T</tspan><tspan font-size="14" dy="4" font-style="italic">e</tspan><tspan dy="-4" font-style="italic" font-family="DejaVu Serif, serif">/T</tspan><tspan font-size="14" dy="4" font-style="italic">p</tspan>';
  
  
  const yy = top + TH / 2;
  const yt = mk('text', {x: 58, y: yy, 'font-size': 16, 'text-anchor': 'middle', transform: 'rotate(-90 58 ' + yy + ')'}, axT.g);
  yt.innerHTML = 'Tp(10<tspan font-size="10" dy="-6">6</tspan><tspan dy="6">K)</tspan>';
  
  
})();
</script>
</body>
</html>
